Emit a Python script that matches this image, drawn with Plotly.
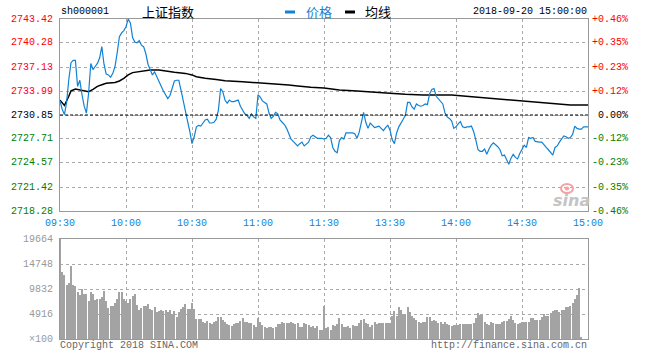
import plotly.graph_objects as go

# ---------------- data ----------------
PREV_CLOSE = 2730.85
PRICE_TICKS = [2718.28, 2721.42, 2724.57, 2727.71, 2730.85, 2733.99, 2737.13, 2740.28, 2743.42]
PCT_LABELS = ["-0.46%", "-0.35%", "-0.23%", "-0.12%", "0.00%", "+0.12%", "+0.23%", "+0.35%", "+0.46%"]
VOL_TICKS = [0, 4916, 9832, 14748, 19664]
VOL_LABELS = ["×100", "4916", "9832", "14748", "19664"]
TIME_VALS = [0, 30, 60, 90, 120, 150, 180, 210, 240]
TIME_LABELS = ["09:30", "10:00", "10:30", "11:00", "11:30", "13:30", "14:00", "14:30", "15:00"]

PRICE = [
    2732.7, 2731.6, 2730.9, 2732.5, 2735.5, 2737.7, 2738.0, 2738.0, 2734.6, 2735.4,
    2733.5, 2732.0, 2731.1, 2733.7, 2737.6, 2736.8, 2737.2, 2737.6, 2738.3, 2739.8,
    2737.5, 2736.2, 2736.1, 2735.8, 2736.3, 2737.2, 2739.0, 2741.1, 2741.6, 2741.9,
    2742.4, 2743.4, 2742.9, 2741.0, 2740.4, 2740.3, 2740.6, 2740.0, 2739.8, 2738.9,
    2737.5, 2736.8, 2736.1, 2736.5, 2735.8, 2735.3, 2734.6, 2734.0, 2733.5, 2733.0,
    2733.4, 2734.4, 2735.3, 2735.4, 2735.4, 2734.1, 2732.6, 2731.1, 2730.0, 2728.7,
    2727.1, 2728.0, 2729.3, 2729.5, 2729.4, 2729.8, 2730.2, 2730.3, 2729.8, 2729.8,
    2729.9, 2730.3, 2731.5, 2734.3, 2733.9, 2732.8, 2732.4, 2732.8, 2732.6, 2732.6,
    2732.7, 2732.8, 2732.0, 2731.4, 2731.0, 2730.8, 2730.4, 2731.0, 2730.6, 2730.4,
    2733.5, 2733.2, 2732.7, 2732.5, 2732.3, 2731.1, 2730.4, 2730.7, 2731.2, 2731.0,
    2730.2, 2729.9, 2729.6, 2729.1, 2728.3, 2727.7, 2727.4, 2727.1, 2726.8, 2727.1,
    2727.3, 2726.8, 2727.0, 2727.3, 2728.0, 2728.2, 2728.0, 2727.8, 2727.8, 2727.8,
    2727.7, 2727.8, 2728.2, 2727.9, 2726.6, 2726.1, 2725.9, 2727.5, 2727.9, 2727.7,
    2728.5, 2728.5, 2728.5, 2728.5, 2728.4, 2727.8, 2728.6, 2730.0, 2731.2, 2729.9,
    2729.1, 2729.8, 2729.5, 2729.2, 2729.3, 2729.4, 2729.1, 2728.8, 2729.2, 2729.5,
    2728.9, 2727.6, 2727.1, 2728.5, 2729.3, 2729.9, 2730.3, 2730.8, 2732.5, 2732.5,
    2731.9, 2731.6, 2732.3, 2732.1, 2732.0, 2732.1, 2732.3, 2732.2, 2733.6, 2734.2,
    2734.3, 2733.3, 2733.0, 2732.7, 2732.3, 2731.1, 2730.6, 2730.4, 2730.1, 2729.1,
    2729.3, 2729.7, 2730.0, 2729.3, 2729.2, 2729.3, 2729.3, 2729.4, 2728.7, 2727.6,
    2726.3, 2726.1, 2726.1, 2726.4, 2725.7, 2726.4, 2726.9, 2727.2, 2727.0, 2726.7,
    2726.3, 2725.5, 2725.6, 2725.0, 2724.4, 2725.2, 2725.7, 2725.3, 2725.1, 2725.8,
    2726.3, 2726.9, 2726.6, 2727.9, 2727.8, 2727.9, 2727.4, 2727.3, 2727.3, 2727.3,
    2726.9, 2726.6, 2726.3, 2726.0, 2725.6, 2726.6, 2726.8, 2727.3, 2727.7, 2728.1,
    2728.0, 2727.8, 2727.9, 2728.3, 2729.4, 2729.1, 2729.0, 2729.0, 2729.3, 2729.3,
    2729.3,
]

AVG_MIN = [0, 2, 4, 5, 7, 10, 13, 15, 17, 19, 21, 25, 27, 29, 31, 33, 36, 41, 45, 48,
           52, 57, 60, 62, 66, 71, 75, 83, 90, 96, 104, 108, 114, 120, 127, 135, 142,
           150, 157, 165, 178, 187, 194, 202, 209, 217, 224, 232, 240]
AVG_VAL = [2732.8, 2732.1, 2733.3, 2734.0, 2734.25, 2734.1, 2733.9, 2734.2, 2734.6, 2734.8,
           2735.0, 2735.1, 2735.3, 2735.65, 2736.1, 2736.4, 2736.5, 2736.75, 2736.75, 2736.6,
           2736.45, 2736.3, 2736.1, 2735.85, 2735.65, 2735.5, 2735.35, 2735.2, 2735.08, 2735.0,
           2734.78, 2734.65, 2734.47, 2734.4, 2734.12, 2734.0, 2733.82, 2733.7, 2733.56, 2733.47,
           2733.47, 2733.25, 2733.1, 2732.9, 2732.68, 2732.5, 2732.38, 2732.16, 2732.16]

VOLUME = [
    19664, 13240, 12580, 10620, 11070, 14420, 10620, 10420, 9300, 8650,
    9770, 8850, 8850, 7540, 9240, 8850, 7670, 7930, 7930, 8320,
    9440, 7540, 6030, 6490, 6490, 7010, 7800, 9180, 9180, 7860,
    7540, 7010, 7800, 8520, 8850, 6680, 5700, 6160, 6490, 6490,
    6880, 5830, 5700, 6230, 5370, 5500, 5700, 5570, 5700, 5240,
    5700, 4850, 5570, 4390, 5370, 5900, 6230, 6880, 5900, 5900,
    7010, 5900, 3930, 3870, 3870, 3410, 3210, 3600, 3210, 2880,
    3280, 3540, 4390, 4390, 3740, 3410, 2880, 2750, 2560, 2950,
    3080, 3080, 3540, 4060, 3410, 3410, 3080, 3080, 2750, 2420,
    4190, 3410, 2750, 2290, 2100, 2420, 2290, 2230, 2420, 2880,
    2880, 3410, 3210, 3210, 3080, 3410, 3210, 2880, 3210, 2420,
    2290, 3210, 2880, 2750, 2420, 2560, 2100, 2560, 1770, 1770,
    6490,
    2230, 2420, 1770, 2750, 2620, 2950, 4190, 2950, 2420, 2420,
    2620, 2100, 2750, 2620, 2620, 3210, 3740, 3930, 3080, 2880,
    2420, 2750, 3280, 2880, 3080, 3080, 3210, 3210, 3080, 3080,
    4520, 5500, 4590, 6360, 5700, 4850, 4850, 6360, 5240, 4520,
    4190, 3740, 3410, 3080, 3280, 3410, 4260, 4260, 3600, 3740,
    3600, 3080, 3340, 2880, 3280, 2880, 2750, 2620, 2750, 2750,
    2750, 2880, 2880, 2880, 2880, 2880, 2880, 3080, 4060, 5050,
    4720, 4720, 3410, 2880, 2750, 3410, 3080, 2880, 2880, 2880,
    3410, 3600, 3600, 3870, 4520, 3740, 3210, 2880, 3080, 3410,
    3410, 3410, 3410, 4060, 4060, 3740, 3740, 3740, 4390, 4920,
    4520, 4520, 5180, 5570, 5700, 5700, 5370, 5700, 5700, 6360,
    6230, 6490, 7140, 7800, 8650, 9960,
    400, 0, 0, 0,
]

# ---------------- geometry ----------------
W, H = 649, 358
L, R, T, B = 60, 588, 19, 339
MAIN_BOTTOM, VOL_TOP = 211, 239


def px(x):
    return (x - L) / (R - L)


def py(y):
    return (B - y) / (B - T)


MONO = "Liberation Mono"
CJK = "Noto Sans CJK SC"
RED, GREEN, BLACK = "#ff0000", "#008000", "#000000"
BLUE_LINE = "#1082d6"
BLUE_TXT = "#1a7fd0"
GRID = "#aaaaaa"
FRAME = "#999999"

minutes = list(range(len(PRICE)))

fig = go.Figure()
fig.add_trace(go.Bar(x=list(range(len(VOLUME))), y=VOLUME, width=0.42,
                     marker=dict(color="#a3a3a3", line=dict(width=0)),
                     xaxis="x2", yaxis="y2", showlegend=False, hoverinfo="skip"))
fig.add_trace(go.Scatter(x=AVG_MIN, y=AVG_VAL, mode="lines",
                         line=dict(color=BLACK, width=1.5), showlegend=False,
                         xaxis="x", yaxis="y", hoverinfo="skip"))
fig.add_trace(go.Scatter(x=minutes, y=PRICE, mode="lines",
                         line=dict(color=BLUE_LINE, width=1.2), showlegend=False,
                         xaxis="x", yaxis="y", hoverinfo="skip"))

main_dom = [py(MAIN_BOTTOM), 1.0]
vol_dom = [0.0, py(VOL_TOP)]

axis_common = dict(showline=True, linecolor=FRAME, linewidth=1, mirror=True,
                   showgrid=True, gridcolor=GRID, gridwidth=1, griddash="dot",
                   zeroline=False, showticklabels=False, ticks="")

fig.update_layout(
    width=W, height=H,
    margin=dict(l=L, r=W - R, t=T, b=H - B, pad=0),
    paper_bgcolor="white", plot_bgcolor="white",
    xaxis=dict(domain=[0, 1], anchor="y", range=[0, 240], tickvals=TIME_VALS[1:-1], **axis_common),
    yaxis=dict(domain=main_dom, anchor="x", range=[PRICE_TICKS[0], PRICE_TICKS[-1]],
               tickvals=PRICE_TICKS[1:-1], **axis_common),
    xaxis2=dict(domain=[0, 1], anchor="y2", range=[0, 240], tickvals=TIME_VALS[1:-1], **axis_common),
    yaxis2=dict(domain=vol_dom, anchor="x2", range=[VOL_TICKS[0], VOL_TICKS[-1]],
                tickvals=VOL_TICKS[1:-1], **axis_common),
    showlegend=False,
    bargap=0,
)

# previous close dashed line
fig.add_shape(type="line", xref="x", yref="y", x0=0, x1=240, y0=PREV_CLOSE, y1=PREV_CLOSE,
              line=dict(color=BLACK, width=1, dash="3px,2px"))

ann = []
# left price labels and right percentage labels
for v, pct in zip(PRICE_TICKS, PCT_LABELS):
    col = RED if v > PREV_CLOSE + 1e-6 else (BLACK if abs(v - PREV_CLOSE) < 1e-6 else GREEN)
    ann.append(dict(xref="paper", yref="y", x=0, y=v, xanchor="right", yanchor="middle",
                    xshift=-5, text=f"{v:.2f}", showarrow=False,
                    font=dict(family=MONO, size=10, color=col)))
    ann.append(dict(xref="paper", yref="y", x=px(630), y=v, xanchor="right", yanchor="middle",
                    text=pct, showarrow=False, font=dict(family=MONO, size=10, color=col)))
# volume labels
for v, lab in zip(VOL_TICKS, VOL_LABELS):
    ann.append(dict(xref="paper", yref="y2", x=0, y=v, xanchor="right", yanchor="middle",
                    xshift=-5, text=lab, showarrow=False,
                    font=dict(family=MONO, size=10, color="#999999")))
# time labels
for t, lab in zip(TIME_VALS, TIME_LABELS):
    ann.append(dict(xref="x", yref="paper", x=t, y=py(223), xanchor="center", yanchor="middle",
                    text=lab, showarrow=False, font=dict(family=MONO, size=10, color=BLUE_TXT)))
# header
ann.append(dict(xref="paper", yref="paper", x=px(59), y=py(12), xanchor="left", yanchor="middle",
                text="sh000001", showarrow=False, font=dict(family=MONO, size=10, color=BLACK)))
ann.append(dict(xref="paper", yref="paper", x=px(140), y=py(11), xanchor="left", yanchor="middle",
                text="上证指数", showarrow=False, font=dict(family=CJK, size=13, color=BLACK)))
ann.append(dict(xref="paper", yref="paper", x=px(304), y=py(11), xanchor="left", yanchor="middle",
                text="价格", showarrow=False, font=dict(family=CJK, size=13, color=BLUE_TXT)))
ann.append(dict(xref="paper", yref="paper", x=px(363), y=py(11), xanchor="left", yanchor="middle",
                text="均线", showarrow=False, font=dict(family=CJK, size=13, color=BLACK)))
ann.append(dict(xref="paper", yref="paper", x=px(589), y=py(12), xanchor="right", yanchor="middle",
                text="2018-09-20 15:00:00", showarrow=False, font=dict(family=MONO, size=10, color=BLACK)))
# footer
ann.append(dict(xref="paper", yref="paper", x=px(58), y=py(345), xanchor="left", yanchor="middle",
                text="Copyright 2018 SINA.COM", showarrow=False, font=dict(family=MONO, size=10, color="#666666")))
ann.append(dict(xref="paper", yref="paper", x=px(589), y=py(345), xanchor="right", yanchor="middle",
                text="http://finance.sina.com.cn", showarrow=False, font=dict(family=MONO, size=10, color="#666666")))
# watermark
ann.append(dict(xref="paper", yref="paper", x=px(571), y=py(200), xanchor="center", yanchor="middle",
                text="<b><i>sina</i></b>", showarrow=False,
                font=dict(family="DejaVu Sans", size=16, color="#c4c4c4")))
fig.update_layout(annotations=ann)

# legend dashes
fig.add_shape(type="line", xref="paper", yref="paper", x0=px(285), x1=px(295), y0=py(12), y1=py(12),
              line=dict(color=BLUE_LINE, width=3))
fig.add_shape(type="line", xref="paper", yref="paper", x0=px(345), x1=px(355), y0=py(12), y1=py(12),
              line=dict(color=BLACK, width=3))
# watermark eye
fig.add_shape(type="circle", xref="paper", yref="paper", x0=px(561), x1=px(573), y0=py(193), y1=py(184),
              line=dict(color="#f4a3a3", width=2))
fig.add_shape(type="circle", xref="paper", yref="paper", x0=px(565), x1=px(569), y0=py(190), y1=py(187),
              fillcolor="#f4a3a3", line=dict(color="#f4a3a3", width=1))

fig.write_html("out.html")
